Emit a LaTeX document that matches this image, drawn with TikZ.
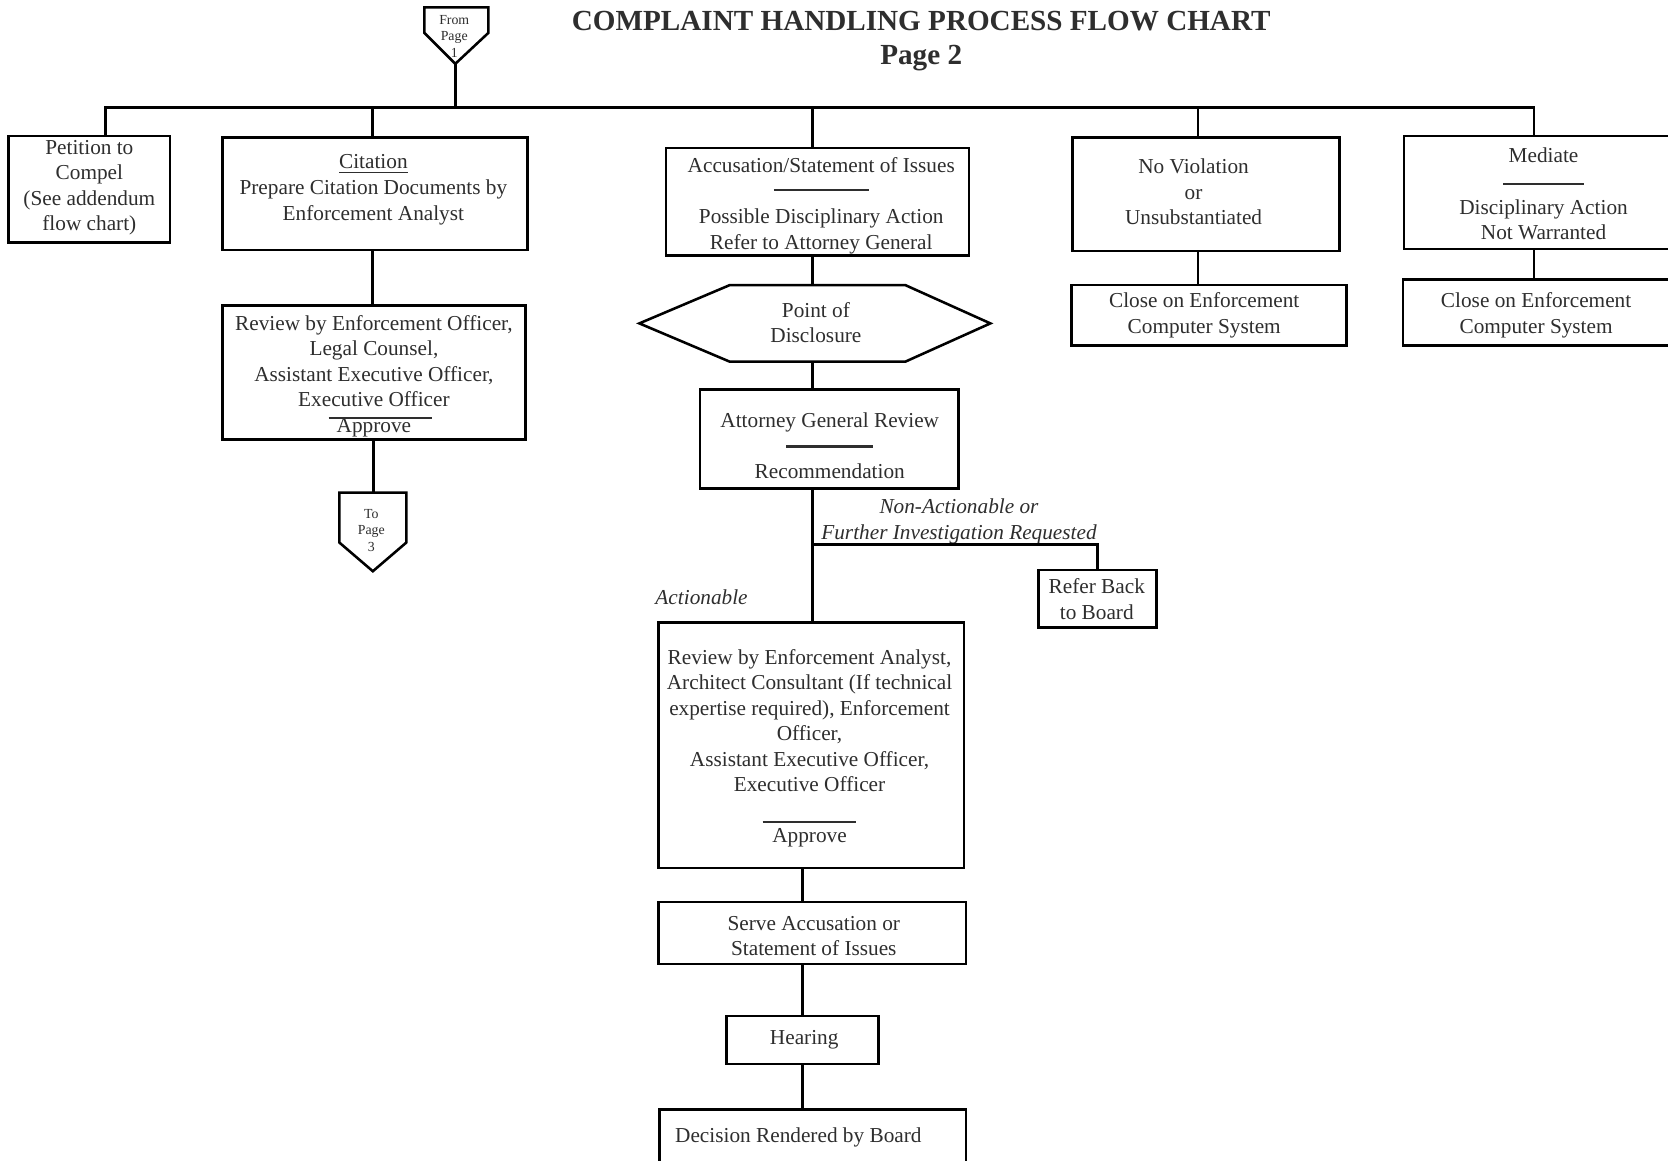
\documentclass[tikz,border=0pt]{standalone}
\usepackage{fontspec}
\setmainfont{Liberation Serif}
\usetikzlibrary{calc}
\pgfdeclareradialshading{vignette}{\pgfpoint{0bp}{0bp}}{color(0bp)=(white); color(36bp)=(white); color(50bp)=(black!5); color(75bp)=(black!10)}

\begin{document}
\begin{tikzpicture}[x=0.5pt, y=-0.5pt,
    frame/.style={draw, line width=1.2pt, inner sep=0pt},
    txt/.style={align=center, inner sep=0pt, yshift=-1.2pt, text=black!82, font=\fontsize{10}{12}\selectfont},
    note/.style={txt, font=\fontsize{10}{12}\selectfont\itshape},
    pagetxt/.style={txt, font=\fontsize{6.5}{7.75}\selectfont},
    link/.style={draw, line width=1.2pt}]
  \useasboundingbox (0,0) rectangle (1568,1091);
  \clip (0,0) rectangle (1568,1091);
  \shade[shading=vignette] (-80,-350) rectangle (1750,1150);

  \node[txt, font=\fontsize{13.7}{16}\selectfont\bfseries] (title) at (866,36) {COMPLAINT HANDLING PROCESS FLOW CHART\\Page 2};

  % off-page connectors
  \coordinate (fromtip) at (428,60);
  \draw[link] (399,7) -- (459,7) -- (459,31) -- (fromtip) -- (399,31) -- cycle;
  \node[pagetxt] (from) at (427,31.5) {From\\Page\\1};
  \coordinate (totop) at (351,463);
  \coordinate (totip) at (350.5,537);
  \draw[link] (319,463) -- (382,463) -- (382,510) -- (totip) -- (319,510) -- cycle;
  \node[pagetxt] (to) at (349,496) {To\\Page\\3};

  % boxes
  \node[frame, minimum width=76pt, minimum height=50pt] (pet) at (84,178) {};
  \node[txt] (pet-t) at (84,174) {Petition to\\Compel\\(See addendum\\flow chart)};

  \node[frame, minimum width=143.5pt, minimum height=53pt] (cit) at (352.5,182) {};
  \node[txt] (cit-t) at (351,176) {\underline{Citation}\\Prepare Citation Documents by\\Enforcement Analyst};

  \node[frame, minimum width=142.5pt, minimum height=63pt] (citrev) at (351.5,350) {};
  \node[txt] (citrev-t) at (351.5,351) {Review by Enforcement Officer,\\Legal Counsel,\\Assistant Executive Officer,\\Executive Officer\\
    \rlap{\hspace{3pt}\rule[6.25pt]{48.5pt}{1pt}}\makebox[48.5pt]{Approve}};

  \node[frame, minimum width=142.5pt, minimum height=50.5pt] (acc) at (768.5,189.5) {};
  \node[txt] (acc-t) at (772,191) {Accusation/Statement of Issues\\ \rule[3.25pt]{44.5pt}{1pt}\hspace{7.5pt}\\Possible Disciplinary Action\\Refer to Attorney General};

  \node[minimum width=165pt, minimum height=36pt, inner sep=0pt, outer sep=0pt] (pod) at (766,304) {};
  \draw[link] (pod.west) -- ([xshift=42.5pt]pod.north west) -- ([xshift=-40pt]pod.north east) -- (pod.east)
    -- ([xshift=-40pt]pod.south east) -- ([xshift=42.5pt]pod.south west) -- cycle;
  \node[txt] (pod-t) at (767,301) {Point of\\Disclosure};

  \node[frame, minimum width=121.5pt, minimum height=46.5pt] (agr) at (779.5,412.5) {};
  \node[txt] (agr-t) at (780,417) {Attorney General Review\\ \rule[2.75pt]{41pt}{1pt}\\Recommendation};

  \node[frame, minimum width=55.5pt, minimum height=27pt] (ref) at (1031.5,563) {};
  \node[txt] (ref-t) at (1031,561) {Refer Back\\to Board};

  \node[frame, minimum width=143.5pt, minimum height=115.5pt] (bigrev) at (762.5,700.5) {};
  \node[txt] (bigrev-t) at (761,701) {Review by Enforcement Analyst,\\Architect Consultant (If technical\\expertise required), Enforcement\\Officer,\\Assistant Executive Officer,\\Executive Officer\\
    \rule[-2.75pt]{44pt}{1pt}\hspace{4pt}\\Approve};

  \node[frame, minimum width=144.5pt, minimum height=29pt] (serve) at (763.5,877) {};
  \node[txt] (serve-t) at (765,877.5) {Serve Accusation or\\Statement of Issues};

  \node[frame, minimum width=71.5pt, minimum height=22.5pt] (hear) at (754.5,977.5) {};
  \node[txt] (hear-t) at (756,975) {Hearing};

  \node[frame, minimum width=144pt, minimum height=78.5pt] (dec) at (764,1121.5) {};
  \node[txt] (dec-t) at (750.5,1067) {Decision Rendered by Board};

  \node[frame, minimum width=125.5pt, minimum height=53.5pt] (nov) at (1133.5,182.5) {};
  \node[txt] (nov-t) at (1122,178) {No Violation\\or\\Unsubstantiated};

  \node[frame, minimum width=129.5pt, minimum height=28.5pt] (cl1) at (1136.5,296.5) {};
  \node[txt] (cl1-t) at (1132,294) {Close on Enforcement\\Computer System};

  \node[frame, minimum width=135pt, minimum height=53pt] (med) at (1455,181) {};
  \node[txt] (med-t) at (1451,180) {Mediate\\ \rule[1.75pt]{38pt}{1pt}\\Disciplinary Action\\Not Warranted};

  \node[frame, minimum width=135.5pt, minimum height=31pt] (cl2) at (1454.5,294) {};
  \node[txt] (cl2-t) at (1444,294) {Close on Enforcement\\Computer System};

  \node[note] (nonact) at (901.5,487.5) {Non-Actionable or\\Further Investigation Requested};
  \node[note] (act) at (659.5,559) {Actionable};

  % connectors
  \coordinate (b1) at (99,101);
  \coordinate (b2) at (350,101);
  \coordinate (b3) at (764,101);
  \coordinate (b4) at (1126,101);
  \coordinate (b5) at (1442,101);
  \coordinate (split) at (764,512);
  \draw[link] (fromtip) -- (fromtip |- b1);
  \draw[link] (b1 |- pet.north) -- (b1) -- (b5) -- (b5 |- med.north);
  \draw[link] (b2) -- (b2 |- cit.north);
  \draw[link] (b3) -- (b3 |- acc.north);
  \draw[link] (b4) -- (b4 |- nov.north);
  \draw[link] (b2 |- cit.south) -- (b2 |- citrev.north);
  \draw[link] (totop |- citrev.south) -- (totop);
  \draw[link] (b3 |- acc.south) -- (b3 |- pod.north);
  \draw[link] (b3 |- pod.south) -- (b3 |- agr.north);
  \draw[link] (b3 |- agr.south) -- (b3 |- bigrev.north);
  \draw[link] (split) -| (ref.north);
  \draw[link] (hear.north |- bigrev.south) -- (hear.north |- serve.north);
  \draw[link] (hear.north |- serve.south) -- (hear.north);
  \draw[link] (hear.south) -- (hear.south |- dec.north);
  \draw[link] (b4 |- nov.south) -- (b4 |- cl1.north);
  \draw[link] (b5 |- med.south) -- (b5 |- cl2.north);
\end{tikzpicture}
\end{document}
